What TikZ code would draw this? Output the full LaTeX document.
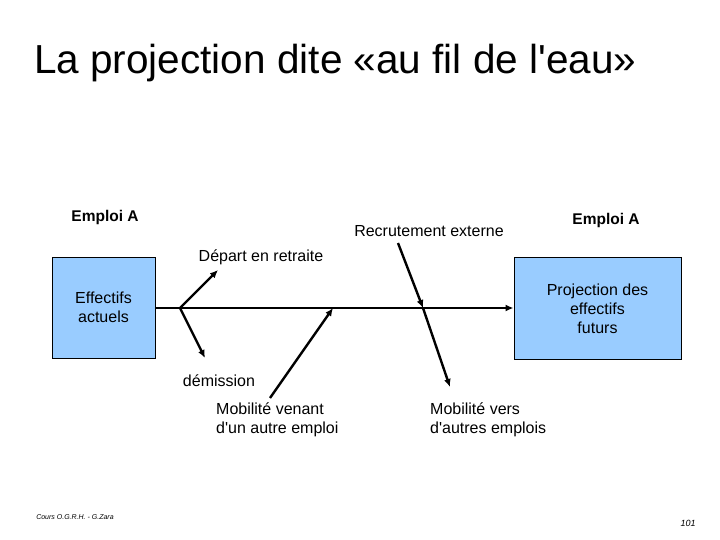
\documentclass[tikz,border=0pt]{standalone}
\usepackage{fontspec}
\setmainfont{Liberation Sans}
\usetikzlibrary{arrows.meta}
\definecolor{boxblue}{HTML}{99CCFF}
\begin{document}
\begin{tikzpicture}[x=1pt,y=-1pt,
  lbl/.style={inner sep=0pt,font=\fontsize{16}{19}\selectfont},
  bbox/.style={draw=black,line width=1pt,fill=boxblue,inner sep=0pt,align=center,font=\fontsize{16}{19}\selectfont},
  flow/.style={line width=2.4pt,-{Latex[length=8pt,width=7pt]}},
  plain/.style={line width=2.4pt}]
\useasboundingbox (0,0) rectangle (720,540);
\node[anchor=west,inner sep=0pt,font=\fontsize{40.5}{44}\selectfont] (title) at (34,63) {La projection dite «au fil de l\textquotesingle eau»};
\node[bbox,minimum width=103pt,minimum height=101pt] (left) at (103.5,307.5) {Effectifs\\actuels};
\node[bbox,minimum width=167pt,minimum height=102pt] (right) at (597.5,308.5) {Projection des\\effectifs\\futurs};
\node[lbl,font=\bfseries\fontsize{15.5}{19}\selectfont] (ea1) at (105,217) {Emploi A};
\node[lbl,font=\bfseries\fontsize{15.5}{19}\selectfont] (ea2) at (606,220) {Emploi A};
\node[lbl] (rec) at (429,231) {Recrutement externe};
\node[lbl] (dep) at (261,257) {Départ en retraite};
\node[lbl] (dem) at (219,381) {démission};
\node[lbl,anchor=west,align=left] (mv) at (216,420) {Mobilité venant\\d\textquotesingle un autre emploi};
\node[lbl,anchor=west,align=left] (mvs) at (430,420) {Mobilité vers\\d\textquotesingle autres emplois};
\node[inner sep=0pt,font=\itshape\fontsize{7}{8}\selectfont] (foot) at (75,517) {Cours O.G.R.H. - G.Zara};
\node[inner sep=0pt,font=\itshape\fontsize{9}{10}\selectfont] (page) at (688,523) {101};
% coordinates
\coordinate (b1) at (180,308);
\coordinate (dtip) at (218,270);
\coordinate (mtip) at (205,358);
\coordinate (m1) at (270,398);
\coordinate (m2) at (333,308);
\coordinate (r1) at (398,243);
\coordinate (r2) at (423,308);
\coordinate (r3) at (450,387);
% connectors
\draw[flow] (left.east |- b1) -- (right.west |- b1);
\draw[flow] (b1) -- (dtip);
\draw[flow] (b1) -- (mtip);
\draw[flow] (m1) -- (m2);
\draw[flow] (r1) -- (r2);
\draw[flow] (r2) -- (r3);
\end{tikzpicture}
\end{document}
